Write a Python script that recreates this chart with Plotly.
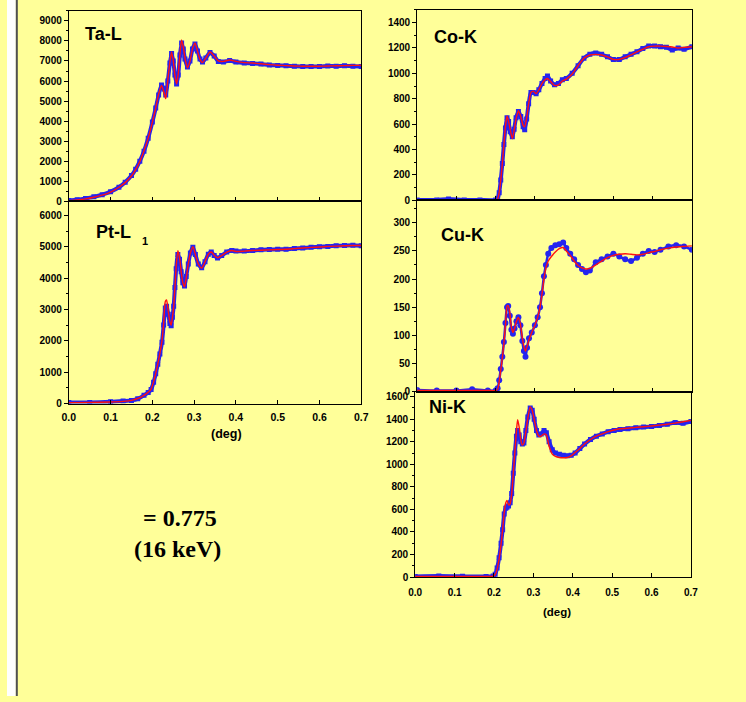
import plotly.graph_objects as go

# ---------------- data ----------------
ta_x = [0.000, 0.020, 0.040, 0.060, 0.080, 0.100, 0.120, 0.135, 0.150, 0.160, 0.170, 0.180, 0.190, 0.200,
        0.208, 0.215, 0.222, 0.228, 0.232, 0.237, 0.242, 0.246, 0.250, 0.254, 0.258, 0.262, 0.266, 0.270,
        0.274, 0.278, 0.284, 0.290, 0.296, 0.302, 0.308, 0.314, 0.320, 0.328, 0.338, 0.348, 0.358, 0.370,
        0.385, 0.400, 0.420, 0.440, 0.460, 0.480, 0.500, 0.520, 0.540, 0.560, 0.580, 0.600, 0.620, 0.640,
        0.660, 0.680, 0.700]
ta_meas = [40, 80, 140, 220, 330, 480, 700, 950, 1280, 1600, 2000, 2500, 3150, 3950,
           4650, 5300, 5800, 5600, 5300, 6000, 6900, 7380, 7000, 6300, 5850, 6300, 7300, 7900,
           7600, 7100, 6700, 7000, 7600, 7850, 7500, 7100, 6950, 7150, 7420, 7250, 6980, 6950,
           7020, 6950, 6900, 6880, 6850, 6800, 6780, 6760, 6740, 6720, 6730, 6720, 6750, 6740,
           6760, 6740, 6720]
ta_fit = [30, 70, 120, 200, 310, 460, 700, 930, 1260, 1580, 1980, 2520, 3150, 3950,
          4650, 5350, 5780, 5400, 5120, 6050, 6950, 7450, 7000, 6300, 5850, 6350, 7350, 8050,
          7700, 7150, 6650, 7000, 7600, 7900, 7500, 7080, 6920, 7150, 7450, 7250, 7000, 6980,
          7050, 6980, 6920, 6900, 6860, 6820, 6790, 6770, 6750, 6740, 6740, 6740, 6750, 6760,
          6770, 6780, 6780]

pt_x = [0.000, 0.050, 0.100, 0.130, 0.150, 0.165, 0.180, 0.190, 0.197, 0.203, 0.208, 0.213, 0.218, 0.223,
        0.227, 0.231, 0.234, 0.238, 0.242, 0.245, 0.248, 0.251, 0.254, 0.257, 0.261, 0.265, 0.269, 0.273,
        0.277, 0.281, 0.286, 0.291, 0.297, 0.303, 0.310, 0.318, 0.326, 0.334, 0.341, 0.348, 0.356, 0.366,
        0.378, 0.390, 0.400, 0.420, 0.440, 0.460, 0.480, 0.500, 0.520, 0.540, 0.560, 0.580, 0.600, 0.620,
        0.640, 0.660, 0.680, 0.700]
pt_meas = [30, 35, 55, 80, 100, 150, 260, 350, 450, 680, 950, 1250, 1580, 1950,
           2500, 3050, 3100, 2850, 2550, 2480, 2750, 3100, 3700, 4300, 4750, 4600, 4200, 3850,
           3750, 4050, 4450, 4800, 4980, 4750, 4450, 4330, 4520, 4760, 4830, 4720, 4640, 4720,
           4830, 4880, 4860, 4860, 4880, 4900, 4910, 4920, 4920, 4940, 4960, 4980, 5000, 5010,
           5030, 5040, 5050, 5030]
pt_fit = [30, 35, 50, 70, 100, 160, 260, 360, 460, 700, 960, 1260, 1600, 2000,
          2550, 3250, 3300, 2950, 2600, 2500, 2750, 3100, 3700, 4350, 4870, 4650, 4200, 3850,
          3720, 4000, 4450, 4800, 5000, 4750, 4450, 4320, 4520, 4760, 4830, 4730, 4650, 4720,
          4830, 4880, 4850, 4860, 4880, 4890, 4900, 4910, 4920, 4940, 4960, 4980, 4990, 5010,
          5020, 5030, 5040, 5040]

co_x = [0.000, 0.050, 0.080, 0.120, 0.160, 0.200, 0.205, 0.209, 0.213, 0.217, 0.221, 0.225, 0.229, 0.233,
        0.237, 0.2425, 0.247, 0.252, 0.258, 0.264, 0.270, 0.274, 0.279, 0.284, 0.290, 0.296, 0.303, 0.310,
        0.318, 0.326, 0.332, 0.340, 0.350, 0.360, 0.370, 0.380, 0.395, 0.410, 0.425, 0.440, 0.455, 0.470,
        0.485, 0.500, 0.515, 0.530, 0.545, 0.560, 0.575, 0.590, 0.605, 0.620, 0.635, 0.650, 0.665, 0.680,
        0.700]
co_meas = [2, 3, 10, 2, 2, 3, 15, 60, 160, 290, 440, 570, 650, 620,
           540, 500, 560, 650, 700, 660, 580, 555, 640, 760, 850, 850, 840, 870,
           920, 960, 980, 940, 910, 920, 950, 960, 1000, 1060, 1120, 1150, 1160, 1150,
           1130, 1110, 1110, 1130, 1150, 1170, 1195, 1215, 1215, 1210, 1205, 1185, 1200, 1190,
           1210]
co_fit = [0, 0, 0, 0, 0, 0, 10, 60, 160, 290, 440, 580, 665, 620,
          560, 485, 550, 640, 705, 660, 590, 580, 650, 760, 850, 860, 840, 870,
          920, 950, 960, 935, 905, 910, 940, 955, 995, 1060, 1120, 1145, 1150, 1145,
          1130, 1110, 1110, 1125, 1145, 1170, 1190, 1210, 1215, 1215, 1212, 1208, 1200, 1205,
          1210]

cu_x = [0.000, 0.050, 0.100, 0.140, 0.180, 0.200, 0.205, 0.209, 0.213, 0.217, 0.221, 0.225, 0.229, 0.232,
        0.236, 0.240, 0.244, 0.248, 0.253, 0.258, 0.263, 0.268, 0.272, 0.276, 0.280, 0.285, 0.292, 0.300,
        0.307, 0.313, 0.318, 0.323, 0.328, 0.334, 0.342, 0.352, 0.362, 0.372, 0.380, 0.390, 0.400, 0.410,
        0.420, 0.430, 0.440, 0.455, 0.470, 0.485, 0.500, 0.515, 0.530, 0.545, 0.560, 0.575, 0.590, 0.605,
        0.620, 0.640, 0.660, 0.680, 0.700]
cu_meas = [3, 2, 2, 4, 2, 2, 6, 20, 40, 62, 88, 122, 150, 152,
           135, 110, 103, 112, 125, 132, 118, 90, 72, 62, 78, 95, 105, 118,
           132, 150, 175, 205, 225, 245, 255, 260, 262, 265, 255, 245, 235, 225,
           218, 212, 215, 230, 235, 240, 245, 240, 235, 232, 238, 245, 250, 248,
           252, 258, 260, 258, 252]
cu_fit = [2, 2, 2, 2, 2, 2, 4, 18, 38, 60, 86, 118, 152, 153,
          140, 115, 105, 112, 125, 132, 120, 95, 80, 72, 80, 92, 105, 118,
          132, 150, 173, 200, 220, 232, 240, 248, 254, 256, 250, 242, 232, 224,
          220, 218, 219, 225, 232, 238, 242, 244, 245, 244, 243, 244, 247, 249,
          252, 255, 257, 258, 259]

ni_x = [0.000, 0.060, 0.120, 0.180, 0.198, 0.203, 0.208, 0.213, 0.218, 0.222, 0.226, 0.230, 0.233, 0.237,
        0.241, 0.245, 0.249, 0.253, 0.257, 0.260, 0.264, 0.268, 0.272, 0.276, 0.281, 0.286, 0.292, 0.297,
        0.302, 0.308, 0.314, 0.320, 0.327, 0.333, 0.340, 0.348, 0.356, 0.366, 0.376, 0.386, 0.396, 0.406,
        0.418, 0.430, 0.445, 0.460, 0.475, 0.490, 0.505, 0.520, 0.540, 0.560, 0.580, 0.600, 0.620, 0.640,
        0.660, 0.680, 0.700]
ni_meas = [5, 8, 6, 5, 8, 25, 80, 170, 300, 420, 560, 610, 620, 630,
           660, 740, 920, 1100, 1250, 1300, 1260, 1200, 1180, 1190, 1300, 1420, 1500, 1480,
           1400, 1300, 1260, 1270, 1300, 1280, 1200, 1130, 1100, 1090, 1080, 1075, 1080, 1100,
           1140, 1180, 1220, 1250, 1270, 1290, 1300, 1310, 1315, 1325, 1330, 1335, 1345, 1355,
           1370, 1365, 1380]
ni_fit = [5, 5, 5, 5, 8, 20, 70, 160, 290, 420, 570, 660, 680, 640,
          650, 740, 920, 1110, 1290, 1395, 1330, 1220, 1170, 1190, 1290, 1410, 1510, 1480,
          1400, 1300, 1250, 1250, 1270, 1260, 1160, 1090, 1070, 1060, 1058, 1060, 1075, 1105,
          1140, 1180, 1220, 1250, 1270, 1290, 1305, 1315, 1320, 1328, 1333, 1340, 1348, 1355,
          1365, 1378, 1390]

x_ticks = [0.0, 0.1, 0.2, 0.3, 0.4, 0.5, 0.6, 0.7]

# ---------------- figure ----------------
W, H = 746, 702
BG = "#FFFF99"
BLUE = "#2424F0"
RED = "#FF1010"
FONT = "Liberation Sans, Arial, sans-serif"


def fx(px):
    return px / W


def fy(py):
    return 1 - py / H


panels = [
    dict(data=(ta_x, ta_meas, ta_fit), xd=(63, 361), yd=(11, 203), yr=[0, 9500], dt=1000, mn=500, xl=False,
         sym="square", lw=4, ms=5),
    dict(data=(pt_x, pt_meas, pt_fit), xd=(63, 361), yd=(203, 407), yr=[0, 6450], dt=1000, mn=500, xl=True,
         sym="square", lw=4, ms=5),
    dict(data=(co_x, co_meas, co_fit), xd=(418, 698), yd=(10, 202), yr=[0, 1500], dt=200, mn=100, xl=False,
         sym="square", lw=4, ms=5),
    dict(data=(cu_x, cu_meas, cu_fit), xd=(418, 698), yd=(202, 395), yr=[0, 340], dt=50, mn=25, xl=False,
         sym="circle", lw=2.5, ms=6),
    dict(data=(ni_x, ni_meas, ni_fit), xd=(416, 697), yd=(395, 582), yr=[0, 1645], dt=200, mn=100, xl=True,
         sym="square", lw=4, ms=5),
]

fig = go.Figure()
layout = {}
for i, p in enumerate(panels, start=1):
    xs, meas, fit = p["data"]
    xa = "x" if i == 1 else f"x{i}"
    ya = "y" if i == 1 else f"y{i}"
    fig.add_trace(go.Scatter(
        x=xs, y=meas, xaxis=xa, yaxis=ya, mode="lines+markers",
        line=dict(color=BLUE, width=p["lw"], shape="spline", smoothing=0.6),
        marker=dict(symbol=p["sym"], size=p["ms"], color=BLUE),
        showlegend=False, hoverinfo="skip"))
    fig.add_trace(go.Scatter(
        x=xs, y=fit, xaxis=xa, yaxis=ya, mode="lines",
        line=dict(color=RED, width=1.4, shape="spline", smoothing=0.6),
        showlegend=False, hoverinfo="skip"))

    small = i >= 3
    tick_font = dict(family=FONT, size=10, color="black", weight=700)
    layout["xaxis" if i == 1 else f"xaxis{i}"] = dict(
        domain=[fx(p["xd"][0]), fx(p["xd"][1])], anchor=ya, range=[0, 0.7],
        tickvals=x_ticks, ticktext=[f"{v:.1f}" for v in x_ticks],
        showticklabels=p["xl"], ticks="inside", ticklen=4, tickwidth=1, tickcolor="black",
        showline=True, linecolor="black", linewidth=1, mirror=True,
        showgrid=False, zeroline=False,
        tickfont=dict(family=FONT, size=10 if small else 10.5, color="black", weight=700),
        ticklabelstandoff=6 if small else 4, fixedrange=True)
    layout["yaxis" if i == 1 else f"yaxis{i}"] = dict(
        domain=[fy(p["yd"][1]), fy(p["yd"][0])], anchor=xa, range=p["yr"],
        tick0=0, dtick=p["dt"], tickformat="d",
        ticks="outside", ticklen=4, tickwidth=1, tickcolor="black",
        minor=dict(dtick=p["mn"], ticks="outside", ticklen=2, tickcolor="black", tickwidth=1),
        showline=True, linecolor="black", linewidth=1, mirror=True,
        showgrid=False, zeroline=False, tickfont=tick_font, fixedrange=True)
    layout[f"yaxis{i + 5}"] = dict(
        overlaying=ya, side="right", anchor=xa, range=p["yr"], tick0=0, dtick=p["dt"],
        ticks="inside", ticklen=3, tickwidth=1, tickcolor="black",
        showticklabels=False, showgrid=False, zeroline=False, showline=False, fixedrange=True)

annotations = [
    dict(x=fx(98), y=fy(34.5), text="<b>Ta-L</b>", size=18),
    dict(x=fx(108.5), y=fy(234.5), text="<b>Pt-L</b>", size=18),
    dict(x=fx(141), y=fy(243.5), text="<b>1</b>", size=11),
    dict(x=fx(457), y=fy(37), text="<b>Co-K</b>", size=18),
    dict(x=fx(464), y=fy(237), text="<b>Cu-K</b>", size=18),
    dict(x=fx(448.5), y=fy(411), text="<b>Ni-K</b>", size=18),
    dict(x=fx(223.5), y=fy(438), text="<b>(deg)</b>", size=12.5),
    dict(x=fx(561), y=fy(617.5), text="<b>(deg)</b>", size=11.5),
]
ann_list = []
for a in annotations:
    ann_list.append(dict(x=a["x"], y=a["y"], xref="paper", yref="paper", text=a["text"],
                         showarrow=False, xanchor="center", yanchor="middle",
                         font=dict(family=FONT, size=a["size"], color="black")))
serif = "Liberation Serif, Times New Roman, serif"
ann_list.append(dict(x=fx(176.5), y=fy(522), xref="paper", yref="paper", text="<b>= 0.775</b>",
                     showarrow=False, xanchor="center", yanchor="middle",
                     font=dict(family=serif, size=24, color="black")))
ann_list.append(dict(x=fx(174), y=fy(554), xref="paper", yref="paper", text="<b>(16 keV)</b>",
                     showarrow=False, xanchor="center", yanchor="middle",
                     font=dict(family=serif, size=24, color="black")))

shapes = [
    dict(type="rect", xref="paper", yref="paper", x0=0, x1=fx(9), y0=0, y1=1,
         fillcolor="white", line=dict(width=0), layer="below"),
    dict(type="line", xref="paper", yref="paper", x0=fx(10), x1=fx(10), y0=0, y1=1,
         line=dict(color="#505050", width=2), layer="below"),
]

fig.update_layout(
    width=W, height=H, margin=dict(l=0, r=0, t=0, b=0, pad=0),
    paper_bgcolor=BG, plot_bgcolor=BG, showlegend=False,
    annotations=ann_list, shapes=shapes, **layout)

fig.write_html("out.html",
               post_script="document.body.style.margin='0';document.body.style.padding='0';"
                           "document.body.style.overflow='hidden';")
